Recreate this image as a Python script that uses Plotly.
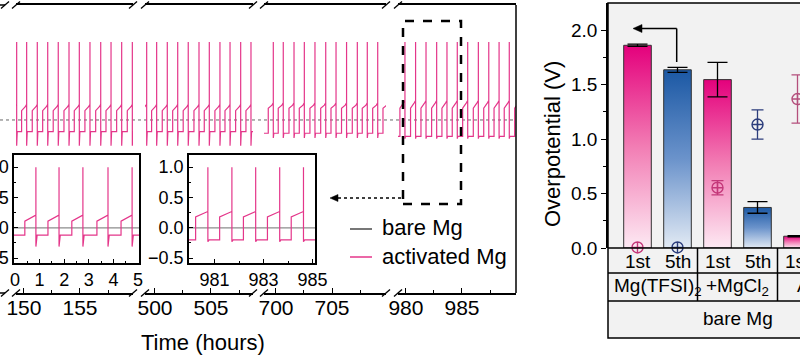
import plotly.graph_objects as go

W, H = 800, 359
FONT = "Liberation Sans, Arial, sans-serif"
PINK = "#e4368a"


def px(x):
    return x / W


def py(y):
    return 1 - y / H


# ---------------- data ----------------
# main panel: broken time axis (hours), four visible segments
seg_ranges = [(149.29, 159.73), (499.11, 508.75), (698.93, 709.82), (979.29, 989.82)]
seg_spikes = [
    [149.35, 150.24, 151.19, 152.12, 153.06, 154.02, 154.94, 155.89, 156.85, 157.77, 158.72, 159.67],
    [499.26, 500.15, 501.10, 502.03, 502.97, 503.93, 504.85, 505.80, 506.70, 507.65, 508.57],
    [699.76, 700.65, 701.61, 702.53, 703.48, 704.44, 705.36, 706.30, 707.26, 708.15, 709.08, 710.00],
    [979.91, 980.86, 981.79, 982.74, 983.66, 984.58, 985.51, 986.46, 987.39, 988.31, 989.22, 990.15],
]
# low plateau, high plateau start, high plateau end, undershoot (V)
seg_levels = [
    (-0.15, 0.12, 0.20, -0.33),
    (-0.15, 0.12, 0.20, -0.33),
    (-0.17, 0.15, 0.22, -0.23),
    (-0.21, 0.15, 0.25, -0.24),
]
spike_top = 1.0

# inset 1 (0-5 h) and inset 2 (980-985 h)
inset1_spikes = [0.85, 1.79, 2.76, 3.78, 4.76]
inset1_levels = (-0.12, 0.11, 0.21, -0.31)
inset2_spikes = [980.73, 981.71, 982.68, 983.66, 984.63]
inset2_levels = (-0.20, 0.18, 0.27, -0.23)

# bar chart (overpotential, V)
bar_labels = ["1st", "5th", "1st", "5th", "1st"]
group_labels = ["Mg(TFSI)<sub>2</sub>", "+MgCl<sub>2</sub>", "AlCl<sub>3</sub>"]
bar_vals = [1.86, 1.635, 1.545, 0.372, 0.108]
bar_errs = [0.01, 0.023, 0.158, 0.053, 0.005]
bar_kind = ["pink", "blue", "pink", "blue", "pink"]
circ_vals = [0.005, 0.005, 0.553, 1.133, 1.367]
circ_errs = [0.0, 0.0, 0.066, 0.134, 0.222]
circ_colors = ["#c4387a", "#2c3d7c", "#c4387a", "#2c3d7c", "#b44f7c"]

# ---------------- figure ----------------
fig = go.Figure()


def wave(spikes, levels, hi, x0, x1):
    lo, h0, h1, dn = levels
    xs, ys = [x0 - 1], [lo]
    for ts in spikes:
        up = ts - hi
        xs += [up, up, ts - 0.12, ts, ts, ts, ts + 0.05]
        ys += [lo, h0, h1 - 0.03, h1, spike_top, dn, lo]
    xs.append(x1 + 1)
    ys.append(lo)
    return xs, ys


seg_px = [(16, 133), (145, 253), (264, 386), (398, 516)]
for i, (rng, sp, lv) in enumerate(zip(seg_ranges, seg_spikes, seg_levels)):
    xs, ys = wave(sp, lv, 0.45, rng[0], rng[1])
    fig.add_trace(go.Scatter(x=xs, y=ys, mode="lines", line=dict(color=PINK, width=1.2),
                             xaxis="x" if i == 0 else f"x{i+1}", yaxis="y",
                             showlegend=False, hoverinfo="skip"))

# insets
for k, (sp, lv, hi, rng) in enumerate([
        (inset1_spikes, inset1_levels, 0.45, (-0.04, 5.04)),
        (inset2_spikes, inset2_levels, 0.50, (979.96, 985.1))]):
    ax = 5 + k
    fig.add_trace(go.Scatter(x=[rng[0] - 1, rng[1] + 1], y=[0, 0], mode="lines",
                             line=dict(color="#8c8c8c", width=1.2),
                             xaxis=f"x{ax}", yaxis=f"y{ax}", showlegend=False, hoverinfo="skip"))
    xs, ys = wave(sp, lv, hi, rng[0], rng[1])
    fig.add_trace(go.Scatter(x=xs, y=ys, mode="lines", line=dict(color=PINK, width=1.2),
                             xaxis=f"x{ax}", yaxis=f"y{ax}", showlegend=False, hoverinfo="skip"))

# bars with vertical gradients
grads = {
    "pink": [[0, "#fde9f3"], [0.5, "#f27db4"], [1, "#e4007c"]],
    "blue": [[0, "#e2eaf4"], [0.5, "#6b93cb"], [1, "#1b58a4"]],
}
bw = 0.69
for i, (v, kind) in enumerate(zip(bar_vals, bar_kind)):
    x0, x1 = i - bw / 2, i + bw / 2
    fig.add_trace(go.Scatter(x=[x0, x1, x1, x0, x0], y=[0, 0, v, v, 0], mode="lines", fill="toself",
                             fillgradient=dict(type="vertical", colorscale=grads[kind]),
                             line=dict(color="#333333", width=1),
                             xaxis="x7", yaxis="y7", showlegend=False, hoverinfo="skip"))
fig.add_trace(go.Scatter(x=list(range(len(bar_vals))), y=bar_vals, mode="markers",
                         marker=dict(size=1, color="rgba(0,0,0,0)"),
                         error_y=dict(type="data", array=bar_errs, color="black", thickness=1.3, width=10),
                         xaxis="x7", yaxis="y7", showlegend=False, hoverinfo="skip"))
for i, (v, e, c) in enumerate(zip(circ_vals, circ_errs, circ_colors)):
    fig.add_trace(go.Scatter(x=[i], y=[v], mode="markers",
                             marker=dict(symbol="circle-cross-open", size=11, color=c, line=dict(width=1.4, color=c)),
                             error_y=dict(type="data", array=[e], color=c, thickness=1.3, width=6, visible=e > 0),
                             xaxis="x7", yaxis="y7", showlegend=False, hoverinfo="skip",
                             cliponaxis=False))

# ---------------- axes ----------------
tf21 = dict(family=FONT, size=21, color="black")
tf18 = dict(family=FONT, size=18, color="black")
tf19 = dict(family=FONT, size=19, color="black")

layout = dict(
    template="none",
    width=W, height=H, margin=dict(l=0, r=0, t=0, b=0, pad=0), autosize=False,
    paper_bgcolor="white", plot_bgcolor="rgba(0,0,0,0)",
    font=dict(family=FONT, color="black"),
    showlegend=False,
)
main_y = dict(domain=[py(293), py(5)], range=[-2.218, 1.474], visible=False, anchor="x", automargin=False)
layout["yaxis"] = main_y
for i, (rng, (a, b)) in enumerate(zip(seg_ranges, seg_px)):
    name = "xaxis" if i == 0 else f"xaxis{i+1}"
    layout[name] = dict(domain=[px(a), px(b)], range=list(rng), anchor="y", automargin=False,
                        showline=True, mirror=True, linecolor="black", linewidth=1.5,
                        ticks="inside", ticklen=5, tickwidth=1.3, tickcolor="black", tick0=0, dtick=5,
                        ticklabelstandoff=-5,
                        minor=dict(ticks="inside", ticklen=3, tickwidth=1.2, tickcolor="black", dtick=2.5),
                        showgrid=False, zeroline=False, tickfont=tf21)

inset_common_x = dict(showline=True, mirror=True, linecolor="black", linewidth=1.5, automargin=False,
                      ticks="inside", ticklen=4, tickwidth=1.2, tickcolor="black", showgrid=False,
                      zeroline=False, tickfont=tf18)
inset_common_y = dict(showline=True, mirror=True, linecolor="black", linewidth=1.5, automargin=False,
                      ticks="inside", ticklen=4, tickwidth=1.2, tickcolor="black", showgrid=False,
                      zeroline=False, tickfont=tf18, range=[-0.58, 1.2], tick0=0, dtick=0.5,
                      tickformat=".1f",
                      minor=dict(ticks="inside", ticklen=2.5, dtick=0.25, tickcolor="black"),
                      domain=[py(263), py(155)])
layout["xaxis5"] = dict(inset_common_x, domain=[px(14), px(139)], range=[-0.04, 5.04], anchor="y5",
                        tick0=0, dtick=1, minor=dict(ticks="inside", ticklen=2.5, dtick=0.5, tickcolor="black"))
layout["yaxis5"] = dict(inset_common_y, anchor="x5")
layout["xaxis6"] = dict(inset_common_x, domain=[px(189), px(315)], range=[979.96, 985.1], anchor="y6",
                        tick0=981, dtick=2, minor=dict(ticks="inside", ticklen=2.5, dtick=1, tickcolor="black"))
layout["yaxis6"] = dict(inset_common_y, anchor="x6")

layout["xaxis7"] = dict(domain=[px(608), 1], range=[-0.7375, 4.0625], anchor="y7", visible=False,
                        automargin=False)
layout["yaxis7"] = dict(domain=[py(248), py(3)], range=[0, 2.248], anchor="x7", automargin=False,
                        showline=True, linecolor="black", linewidth=1.5,
                        ticks="outside", ticklen=5, tickwidth=1.3, tickcolor="black", tick0=0, dtick=0.5,
                        tickformat=".1f",
                        minor=dict(ticks="outside", ticklen=3, tickwidth=1.2, tickcolor="black", dtick=0.25),
                        showgrid=False, zeroline=False, tickfont=tf19)
fig.update_layout(**layout)

# ---------------- decorations ----------------
shapes = []


def pline(x0, y0, x1, y1, color="black", width=1.5, dash="solid", layer="above"):
    shapes.append(dict(type="line", xref="paper", yref="paper", x0=px(x0), y0=py(y0), x1=px(x1), y1=py(y1),
                       line=dict(color=color, width=width, dash=dash), layer=layer))


# right panel frame and table
shapes.append(dict(type="rect", xref="paper", yref="paper", x0=px(608), x1=px(806), y0=py(338), y1=py(3),
                   fillcolor="#f2f2f2", line=dict(color="black", width=1.5), layer="below"))
for yy in (248, 273, 301):
    pline(608, yy, 806, yy)


def xb(i):  # bar-axis position -> pixel
    return 608 + (i + 0.7375) * 40


for sep in (1.5, 3.5):
    pline(xb(sep), 248, xb(sep), 301)

# main panel: right border, left stub lines, zero reference, break marks
pline(516, 5, 516, 293)
for yy in (5, 293):
    pline(0, yy, 5, yy)
shapes.append(dict(type="line", xref="paper", yref="y", x0=0, x1=px(516), y0=0, y1=0,
                   line=dict(color="#666666", width=1, dash="dot"), layer="below"))
for bx in (5, 16, 133, 145, 253, 264, 386, 398):
    for yy in (5, 293):
        pline(bx - 4, yy + 3.5, bx + 4, yy - 3.5, width=1.3)

# dashed zoom box and dotted arrow to inset
shapes.append(dict(type="rect", xref="paper", yref="paper", x0=px(403), x1=px(461), y0=py(204), y1=py(21),
                   line=dict(color="black", width=2.5, dash="dash")))
pline(338, 198, 403, 198, width=1.3, dash="dot")
shapes.append(dict(type="path", xref="paper", yref="paper",
                   path=f"M {px(330)} {py(198)} L {px(338)} {py(194.5)} L {px(338)} {py(201.5)} Z",
                   fillcolor="black", line=dict(color="black", width=0.5)))

# legend samples
pline(350, 229, 372, 229, color="#4a4a4a", width=1.5)
pline(350, 257, 372, 257, color=PINK, width=1.5)

# arrow in bar chart
pline(676.7, 62, 676.7, 28.5, width=1.5)
pline(676.7, 28.5, 641, 28.5, width=1.5)
shapes.append(dict(type="path", xref="paper", yref="paper",
                   path=f"M {px(633)} {py(28.5)} L {px(642)} {py(24.5)} L {px(642)} {py(32.5)} Z",
                   fillcolor="black", line=dict(color="black", width=0.5)))

fig.update_layout(shapes=shapes)

ann = []


def ptext(x, y, text, size, xanchor="center", angle=0):
    ann.append(dict(xref="paper", yref="paper", x=px(x), y=py(y), text=text, showarrow=False,
                    xanchor=xanchor, yanchor="middle", textangle=angle,
                    font=dict(family=FONT, size=size, color="black")))


ptext(203, 342, "Time (hours)", 22)
ptext(380, 228, "bare Mg", 22, xanchor="left")
ptext(380, 256, "activated Mg", 22, xanchor="left")
ptext(553, 144, "Overpotential (V)", 22, angle=-90)
for i, lab in enumerate(bar_labels):
    ptext(xb(i), 261, lab, 19)
for g, lab in enumerate(group_labels):
    ptext(xb(2 * g + 0.5), 287, lab, 19)
ptext(738, 318, "bare Mg", 19)
fig.update_layout(annotations=ann)

fig.write_html("out.html", config={"displayModeBar": False},
               post_script="document.body.style.margin='0';document.body.style.overflow='hidden';")
